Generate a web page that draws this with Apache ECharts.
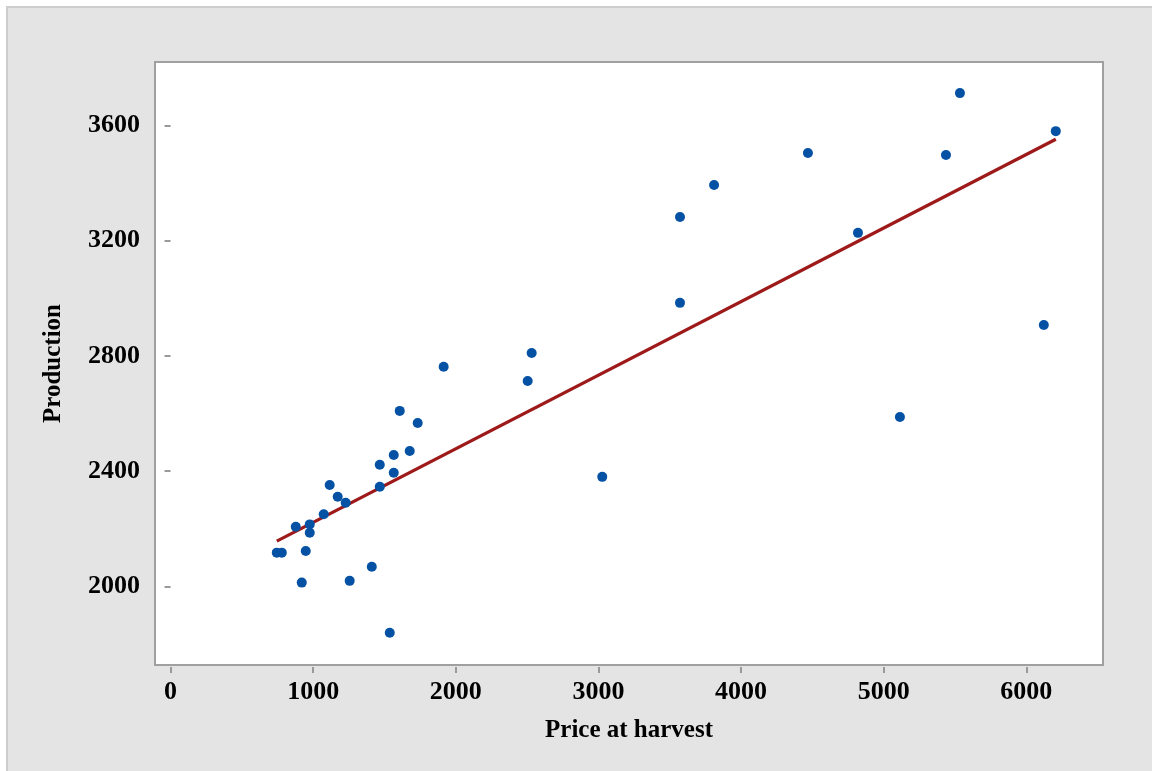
<!DOCTYPE html>
<html>
<head>
<meta charset="utf-8">
<script src="https://cdn.jsdelivr.net/npm/echarts@6/dist/echarts.min.js"></script>
<style>
  html, body { margin: 0; padding: 0; background: #ffffff; }
  #bg { position: absolute; left: 6px; top: 6px; width: 1146px; height: 765px; background: #e4e4e4; border-top: 2px solid #cdcdcd; border-left: 2px solid #cdcdcd; box-sizing: border-box; }
  #chart { position: absolute; left: 0; top: 0; width: 1152px; height: 771px; }
</style>
</head>
<body>
<div id="bg"></div>
<div id="chart"></div>
<script>
// Data
const priceAtHarvest = [745, 780, 878, 976, 976, 948, 920, 1074, 1116, 1172, 1228, 1256, 1411, 1467, 1467, 1565, 1565, 1537, 1607, 1677, 1733, 1915, 2504, 2532, 3027, 3572, 3572, 3811, 4469, 4820, 5114, 5437, 5535, 6123, 6207];
const production     = [2117, 2117, 2207, 2215, 2186, 2123, 2013, 2250, 2352, 2311, 2290, 2019, 2068, 2422, 2346, 2456, 2394, 1839, 2609, 2470, 2567, 2762, 2713, 2810, 2380, 3282, 2984, 3393, 3504, 3227, 2588, 3497, 3712, 2907, 3580];
// Fitted regression line endpoints
const fitX = [745, 6207];
const fitY = [2157, 3552];
// Tick labels
const xTicks = [0, 1000, 2000, 3000, 4000, 5000, 6000];
const yTicks = [2000, 2400, 2800, 3200, 3600];

const font = 'Liberation Serif, Times New Roman, serif';
const scatterData = priceAtHarvest.map((x, i) => [x, production[i]]);
const fitData = fitX.map((x, i) => [x, fitY[i]]);

const chart = echarts.init(document.getElementById('chart'), null, { renderer: 'canvas' });
chart.setOption({
  backgroundColor: 'transparent',
  animation: false,
  grid: {
    left: 155, top: 62, right: 49, bottom: 106,
    show: true, backgroundColor: '#ffffff', borderColor: '#a0a0a0', borderWidth: 2
  },
  xAxis: {
    type: 'value', min: -109, max: 6538, offset: 2,
    name: 'Price at harvest', nameLocation: 'middle', nameGap: 51,
    nameTextStyle: { fontFamily: font, fontWeight: 'bold', fontSize: 25, color: '#000' },
    axisLine: { show: false },
    splitLine: { show: false },
    axisTick: { show: true, length: 6, customValues: xTicks, lineStyle: { color: '#999999', width: 2 } },
    axisLabel: { customValues: xTicks, margin: 12, formatter: v => String(v), fontFamily: font, fontWeight: 'bold', fontSize: 26, color: '#000' }
  },
  yAxis: {
    type: 'value', min: 1727, max: 3820, offset: 2,
    name: 'Production', nameLocation: 'middle', nameGap: 87, nameRotate: 90,
    nameTextStyle: { fontFamily: font, fontWeight: 'bold', fontSize: 25, color: '#000' },
    axisLine: { show: false },
    splitLine: { show: false },
    axisTick: { show: true, length: 6, customValues: yTicks, lineStyle: { color: '#999999', width: 2 } },
    axisLabel: { customValues: yTicks, margin: 13, formatter: v => String(v), fontFamily: font, fontWeight: 'bold', fontSize: 26, color: '#000' }
  },
  series: [
    {
      type: 'line', data: fitData, symbol: 'none', z: 2,
      lineStyle: { color: '#9e1a1a', width: 3.3 }
    },
    {
      type: 'scatter', data: scatterData, symbol: 'circle', symbolSize: 10, z: 3,
      itemStyle: { color: '#0552a5', opacity: 1 }
    }
  ]
});
</script>
</body>
</html>
